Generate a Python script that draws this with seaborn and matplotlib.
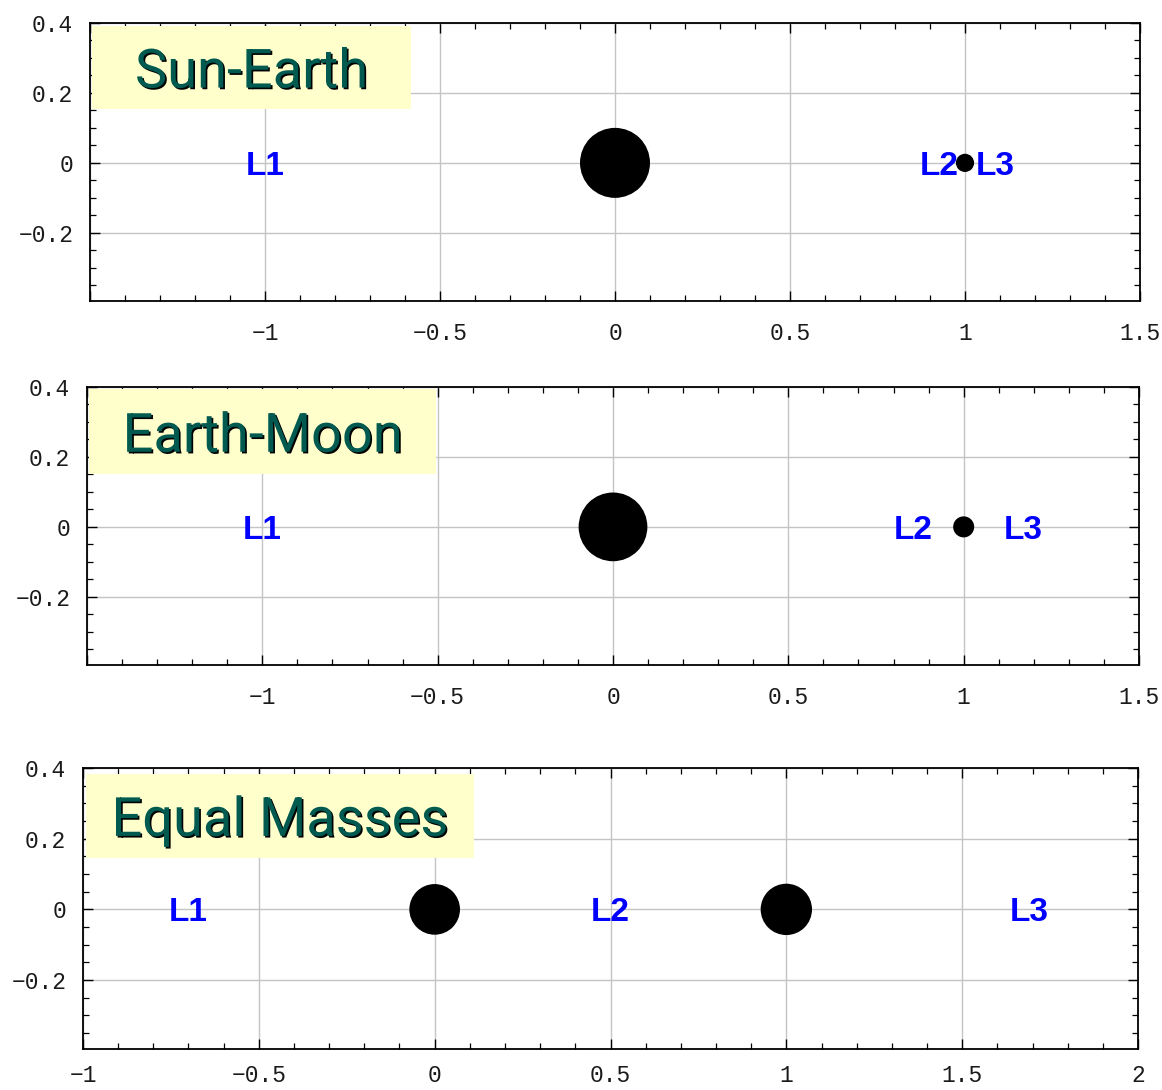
import numpy as np
import pandas as pd
import seaborn as sns
import matplotlib
matplotlib.use("Agg")
import matplotlib.pyplot as plt
from matplotlib.ticker import MultipleLocator, FuncFormatter
from matplotlib.patches import Rectangle
import matplotlib.patheffects as pe

sns.set_theme(style="white")
plt.rcParams["font.family"] = ["DejaVu Sans"]

# ---- data -------------------------------------------------------------
systems = ["Sun-Earth", "Earth-Moon", "Equal Masses"]

# primary bodies: x positions and drawn disk radii (rotating-frame units)
body_x = [[0.0, 1.0], [0.0, 1.0], [0.0, 1.0]]
body_r = [[0.100, 0.026], [0.098, 0.030], [0.072, 0.073]]

# Lagrange point labels and where they sit on the x axis
lagrange_names = ["L1", "L2", "L3"]
lagrange_x = [[-1.0, 0.925, 1.085], [-1.0, 0.855, 1.17], [-0.70, 0.50, 1.69]]

x_limits = [(-1.5, 1.5), (-1.5, 1.5), (-1.0, 2.0)]
y_limits = (-0.395, 0.40)
hide_left_xlabel = [True, True, False]

# ---- figure layout (pixels -> figure fractions) -------------------------
W, H = 1162, 1090
fig = plt.figure(figsize=(W / 100, H / 100), dpi=100)
panel_px = [(90, 1140, 23, 301), (87, 1139, 387, 665), (83, 1138, 768, 1049)]
x_pad = [15, 15, 11]
title_box = [(-1.494, -0.583, 0.154, 0.391),
             (-1.494, -0.505, 0.151, 0.393),
             (-0.992, 0.111, 0.145, 0.384)]

tick_font = "Liberation Mono"


def make_fmt(xmin, hide_first):
    def f(v, p):
        if hide_first and abs(v - xmin) < 1e-9:
            return ""
        return ("%g" % v).replace("-", "\u2212")
    return FuncFormatter(f)


yfmt = FuncFormatter(lambda v, p: ("%g" % v).replace("-", "\u2212"))

for i, name in enumerate(systems):
    l, r, t, b = panel_px[i]
    ax = fig.add_axes([l / W, 1 - b / H, (r - l) / W, (b - t) / H])
    ax.set_xlim(*x_limits[i])
    ax.set_ylim(*y_limits)

    ax.xaxis.set_major_locator(MultipleLocator(0.5))
    ax.xaxis.set_minor_locator(MultipleLocator(0.1))
    ax.yaxis.set_major_locator(MultipleLocator(0.2))
    ax.yaxis.set_minor_locator(MultipleLocator(0.05))
    ax.xaxis.set_major_formatter(make_fmt(x_limits[i][0], hide_left_xlabel[i]))
    ax.yaxis.set_major_formatter(yfmt)
    ax.tick_params(which="both", direction="in", top=True, right=True,
                   bottom=True, left=True, color="black")
    ax.tick_params(which="major", length=7, width=1.0)
    ax.tick_params(which="minor", length=4.5, width=0.9)
    ax.tick_params(axis="x", which="major", pad=x_pad[i], labelsize=16.5)
    ax.tick_params(axis="y", which="major", pad=12, labelsize=16.5)
    for lab in ax.get_xticklabels() + ax.get_yticklabels():
        lab.set_fontfamily(tick_font)
        lab.set_color("#1a1a1a")

    ax.grid(True, which="major", color="#c4c4c4", linewidth=1.0)
    ax.set_axisbelow(True)
    for sp in ax.spines.values():
        sp.set_visible(True)
        sp.set_color("black")
        sp.set_linewidth(1.3)
    ax.set_xlabel("")
    ax.set_ylabel("")

    # title box
    x0, x1, y0, y1 = title_box[i]
    ax.add_patch(Rectangle((x0, y0), x1 - x0, y1 - y0, facecolor="#ffffcc",
                           edgecolor="none", zorder=3))
    ax.text((x0 + x1) / 2, (y0 + y1) / 2, name, ha="center",
            va="center_baseline", fontsize=39, family="Roboto",
            color="#005a50", zorder=4,
            path_effects=[pe.withSimplePatchShadow(offset=(1.2, -1.2),
                                                   shadow_rgbFace="black",
                                                   alpha=1.0)])

    # primaries: marker sizes from data-space radius
    px_per_unit = (r - l) / (x_limits[i][1] - x_limits[i][0])
    diam_pt = [2 * rad * px_per_unit * 72 / 100 for rad in body_r[i]]
    df = pd.DataFrame({"x": body_x[i], "y": [0.0] * len(body_x[i]),
                       "s": [d ** 2 for d in diam_pt]})
    for _, row in df.iterrows():
        sns.scatterplot(x=[row["x"]], y=[row["y"]], s=row["s"], color="black",
                        edgecolor="none", linewidth=0, ax=ax, zorder=5,
                        legend=False)

    # Lagrange point labels
    for lname, lx in zip(lagrange_names, lagrange_x[i]):
        ax.text(lx, 0.0, lname, ha="center", va="center_baseline",
                fontsize=24, fontweight="bold", family="Liberation Sans",
                color="#0000ff", zorder=6)
    ax.set_xlim(*x_limits[i])
    ax.set_ylim(*y_limits)

fig.savefig("out.png", dpi=100, facecolor="white")
